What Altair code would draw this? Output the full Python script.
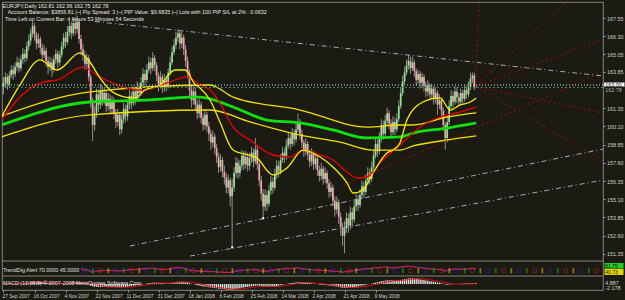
import json
import altair as alt
import pandas as pd

# ---------------- data ----------------
FIRST_OPEN = 162.8
CLOSE = [163.1, 163.5, 163.0, 163.6, 164.0, 163.7, 164.2, 164.5, 164.1, 164.7,
         165.1, 164.8, 165.6, 166.0, 166.5, 167.0, 166.4, 165.8, 166.1, 165.5,
         165.0, 165.3, 164.6, 164.2, 164.5, 164.0, 164.7, 165.1, 164.5, 165.0,
         165.6, 166.2, 165.9, 166.6, 167.0, 166.5, 167.2, 166.8, 167.3, 166.1,
         165.4, 165.0, 164.4, 164.8, 163.5, 161.8, 160.2, 161.0, 162.3, 161.6,
         162.6, 161.9, 162.4, 161.5, 162.0, 161.3, 161.9, 161.0, 160.4, 160.9,
         159.9, 160.6, 161.3, 160.8, 161.6, 162.2, 161.7, 162.5, 162.0, 162.8,
         162.4, 163.1, 163.7, 163.3, 164.0, 164.5, 164.1, 164.8, 164.3, 163.6,
         163.0, 163.5, 162.8, 163.3, 162.9, 163.8, 164.5, 165.2, 165.7, 166.2,
         166.5, 165.8, 166.2, 165.4, 164.6, 163.8, 162.6, 161.9, 162.5, 161.6,
         161.0, 161.6, 160.7, 160.2, 160.9, 160.1, 159.6, 159.0, 159.4, 158.6,
         158.0, 157.3, 157.8, 157.0, 156.6, 155.9, 156.4, 155.3, 155.9, 156.9,
         157.6, 156.9, 157.4, 158.1, 157.5, 158.0, 157.4, 157.9, 158.3, 157.7,
         158.5, 157.5, 156.4, 155.5, 154.6, 155.4, 154.8, 155.7, 156.3, 155.9,
         156.8, 157.4, 157.0, 157.8, 158.3, 158.0, 158.8, 159.3, 158.9, 159.6,
         159.2, 159.9, 160.4, 159.6, 159.0, 158.4, 158.9, 158.2, 157.7, 158.2,
         157.5, 157.9, 157.1, 156.7, 157.2, 156.5, 156.9, 156.2, 155.6, 155.9,
         155.0, 154.4, 154.9, 153.9, 153.2, 152.6, 153.1, 153.8, 153.3, 154.2,
         153.7, 154.6, 155.1, 154.7, 155.4, 156.0, 155.6, 156.4, 156.9, 156.5,
         157.3, 158.1, 158.9, 158.4, 159.3, 160.2, 159.6, 160.5, 161.0, 160.3,
         159.7, 160.4, 159.9, 160.6, 161.5, 162.4, 163.2, 163.8, 164.3, 164.6,
         164.1, 164.5, 163.9, 163.3, 163.7, 163.1, 163.5, 162.9, 162.5, 162.9,
         162.3, 162.7, 162.0, 162.4, 161.6, 161.9, 161.2, 160.2, 159.3, 160.4,
         161.5, 162.2, 161.8, 162.5, 162.1, 161.8, 162.4, 162.0, 162.6, 162.3,
         162.8, 163.4, 163.6, 162.81, 162.78]
HIGH = [163.5, 163.8, 163.7, 163.9, 164.3, 164.3, 164.5, 164.9, 164.8, 165.0,
        165.5, 165.4, 165.9, 166.4, 166.8, 167.4, 167.2, 166.6, 166.5, 166.3,
        165.8, 165.7, 165.5, 164.9, 164.9, 164.8, 165.0, 165.4, 165.3, 165.3,
        165.9, 166.5, 166.6, 167.0, 167.4, 167.3, 167.6, 167.5, 167.7, 167.5,
        166.4, 165.8, 165.3, 165.1, 165.0, 163.7, 162.1, 161.5, 162.7, 162.6,
        163.0, 162.9, 162.8, 162.6, 162.4, 162.3, 162.2, 162.1, 161.3, 161.3,
        161.1, 161.0, 161.7, 161.6, 161.9, 162.6, 162.5, 162.9, 162.8, 163.2,
        163.1, 163.5, 164.1, 164.0, 164.4, 164.9, 164.8, 165.2, 165.0, 164.5,
        163.8, 163.9, 163.7, 163.7, 163.6, 164.1, 164.9, 165.6, 166.1, 166.6,
        166.8, 166.7, 166.6, 166.4, 165.7, 164.9, 164.0, 162.9, 162.9, 162.8,
        161.9, 162.0, 161.8, 161.0, 161.3, 161.1, 160.4, 159.9, 159.8, 159.6,
        158.9, 158.3, 158.2, 158.0, 157.4, 156.9, 156.8, 156.6, 156.5, 157.3,
        158.0, 157.9, 157.8, 158.5, 158.4, 158.4, 158.3, 158.3, 158.7, 158.6,
        159.3, 158.8, 157.8, 156.7, 155.8, 155.8, 155.7, 156.1, 156.7, 156.6,
        157.2, 157.8, 157.7, 158.2, 158.7, 158.6, 159.2, 159.7, 159.6, 160.0,
        159.9, 160.3, 161.0, 160.6, 159.9, 159.2, 159.3, 159.1, 158.5, 158.6,
        158.4, 158.3, 158.1, 157.4, 157.6, 157.4, 157.3, 157.1, 156.5, 156.3,
        156.1, 155.3, 155.3, 155.1, 154.2, 153.5, 153.6, 154.2, 154.1, 154.6,
        154.5, 155.0, 155.5, 155.4, 155.8, 156.4, 156.3, 156.8, 157.3, 157.2,
        157.7, 158.5, 159.3, 159.2, 159.7, 160.6, 160.5, 160.9, 161.4, 161.2,
        160.6, 160.8, 160.7, 161.0, 161.9, 162.8, 163.6, 164.2, 164.7, 165.0,
        164.9, 164.9, 164.7, 164.1, 164.0, 163.9, 163.8, 163.7, 163.2, 163.3,
        163.1, 163.0, 162.9, 162.8, 162.6, 162.3, 162.1, 161.4, 160.4, 160.8,
        161.9, 162.6, 162.5, 162.9, 162.8, 162.4, 162.7, 162.6, 162.9, 162.9,
        163.2, 163.8, 163.8, 163.8, 162.96]
LOW = [162.3, 162.8, 162.6, 162.8, 163.4, 163.3, 163.5, 163.9, 163.8, 163.9,
       164.4, 164.5, 164.6, 165.3, 165.7, 166.2, 166.0, 165.4, 165.5, 165.1,
       164.6, 164.8, 164.2, 163.7, 163.9, 163.5, 163.8, 164.4, 164.1, 164.3,
       164.8, 165.4, 165.5, 165.7, 166.3, 166.1, 166.3, 166.4, 166.5, 165.8,
       165.0, 164.6, 164.0, 164.1, 163.2, 161.4, 159.1, 159.8, 160.7, 161.1,
       161.3, 161.5, 161.6, 161.1, 161.2, 160.9, 161.0, 160.6, 160.0, 160.1,
       159.5, 159.6, 160.3, 160.4, 160.5, 161.3, 161.3, 161.5, 161.6, 161.8,
       162.0, 162.2, 162.9, 162.9, 163.1, 163.8, 163.7, 163.9, 163.9, 163.2,
       162.5, 162.7, 162.4, 162.5, 162.5, 162.7, 163.6, 164.3, 165.0, 165.4,
       165.9, 165.4, 165.5, 165.0, 164.2, 163.4, 162.2, 161.4, 161.6, 161.2,
       160.6, 160.7, 160.3, 159.8, 159.9, 159.7, 159.1, 158.5, 158.7, 158.2,
       157.6, 156.9, 157.0, 156.6, 156.1, 155.5, 155.5, 154.6, 151.8, 155.6,
       156.6, 156.5, 156.6, 157.1, 157.1, 157.2, 157.0, 157.1, 157.6, 157.3,
       157.5, 157.1, 156.0, 155.0, 153.8, 154.3, 154.3, 154.6, 155.4, 155.5,
       155.7, 156.5, 156.6, 156.8, 157.6, 157.6, 157.8, 158.6, 158.5, 158.7,
       158.8, 159.0, 159.7, 159.2, 158.6, 158.0, 158.1, 157.8, 157.3, 157.4,
       157.1, 157.2, 156.7, 156.3, 156.4, 156.1, 156.2, 155.8, 155.2, 155.3,
       154.6, 153.9, 154.1, 153.4, 152.6, 151.9, 151.4, 152.8, 152.8, 153.0,
       153.2, 153.5, 154.3, 154.3, 154.5, 155.1, 155.2, 155.4, 156.1, 156.1,
       156.3, 157.0, 157.9, 158.0, 158.2, 159.0, 159.2, 159.4, 160.2, 159.9,
       159.3, 159.5, 159.5, 159.7, 160.4, 161.3, 162.2, 163.0, 163.6, 164.0,
       163.7, 163.9, 163.5, 162.9, 163.0, 162.7, 162.8, 162.5, 162.1, 162.2,
       161.9, 162.0, 161.6, 161.7, 160.9, 161.3, 160.8, 159.8, 158.5, 159.0,
       160.2, 161.3, 161.4, 161.6, 161.7, 161.5, 161.6, 161.7, 161.8, 162.0,
       162.1, 162.6, 163.1, 162.6, 162.75]

DATE_J = [0, 16, 32, 48, 64, 80, 96, 112, 128, 144, 160, 176, 192]
DATE_LABELS = ["27 Sep 2007", "16 Oct 2007", "4 Nov 2007", "22 Nov 2007",
               "11 Dec 2007", "31 Dec 2007", "18 Jan 2008", "6 Feb 2008",
               "25 Feb 2008", "14 Mar 2008", "2 Apr 2008", "21 Apr 2008",
               "9 May 2008"]
PRICE_TICKS = [167.55, 166.30, 165.05, 163.85, 161.35, 160.10, 158.85,
               157.60, 156.35, 155.10, 153.85, 152.60, 151.35]

# moving averages
FAST_J = [-1, 8.5, 18.8, 27.6, 39.5, 44.6, 49.8, 55, 62.7, 67.9, 73, 80.8, 88.5,
          93.7, 98.8, 101.4, 106.6, 111.7, 118.5, 130.8, 139.1, 146.3, 154.6,
          163.4, 170, 177.3, 180.4, 185.5, 190.7, 197.9, 201, 204.6, 208.2,
          216.5, 225.3, 230.5, 235.7, 240.9, 244]
FAST_P = [160.75, 162.95, 164.67, 163.98, 165.15, 164.53, 163.43, 162.60, 162.12,
          162.06, 162.60, 162.95, 163.98, 163.98, 163.0, 162.74, 161.92, 160.41,
          158.48, 157.93, 156.77, 157.25, 158.48, 158.0, 157.32, 156.22, 155.53,
          155.74, 156.90, 158.28, 158.48, 158.97, 160.54, 161.78, 162.06, 161.23,
          161.58, 161.78, 162.06]
RED_J = [-1, 8.5, 20.4, 27.6, 41, 49.8, 61.7, 72, 84.4, 94.7, 101.4, 106.6, 111.7,
         118.5, 127.2, 139.1, 147.9, 154.6, 163.4, 170, 177.3, 182.5, 187.6, 194.3,
         204.6, 215, 225.3, 235.7, 244]
RED_P = [160.54, 162.12, 163.15, 163.29, 164.18, 163.50, 162.81, 162.60, 163.09,
         163.50, 162.95, 162.60, 161.71, 160.06, 159.17, 158.14, 158.0, 158.48,
         158.14, 157.80, 156.97, 156.56, 156.63, 157.6, 158.83, 160.06, 160.75,
         161.09, 161.44]
GREEN_J = [-1, 44.6, 75.6, 96.3, 101.4, 118.5, 136, 153.1, 170, 187.6, 204.6,
           211.4, 228.9, 244]
GREEN_P = [160.20, 161.78, 161.92, 162.12, 162.12, 161.44, 160.54, 160.34, 159.86,
           159.31, 159.38, 159.65, 159.99, 160.34]
UPPER_J = [-1, 44.6, 106.6, 118.5, 153.1, 187.6, 204.6, 211.4, 228.9, 244]
UPPER_P = [160.8, 162.47, 162.95, 162.12, 161.23, 160.06, 160.20, 160.20, 160.75,
           161.03]
LOWER_J = [-1, 44.6, 106.6, 127.2, 153.1, 173.7, 190.7, 204.6, 211.4, 228.9, 244]
LOWER_P = [159.38, 160.89, 161.23, 160.41, 159.51, 159.03, 158.48, 158.48, 158.76,
           159.17, 159.45]

# trend lines (start / end points)
GRAY_LINES = [([47.2, 309.4], [167.31, 163.57]),
              ([65.3, 309.4], [151.89, 158.55]),
              ([96.3, 309.4], [151.20, 156.42])]
RED_LINES = [([243.6, 245.5], [162.85, 168.65]),
             ([243.6, 290.3], [162.85, 168.65]),
             ([243.6, 309.4], [162.85, 166.07]),
             ([176.0, 309.4], [156.08, 163.85]),
             ([243.6, 309.4], [162.85, 161.02]),
             ([243.6, 309.4], [162.85, 157.74])]
ANCHOR_J, ANCHOR_P = [118, 134], [151.8, 153.8]

BID = 162.78
HLINE = 162.95

HEADER = ["EURJPY,Daily  162.81 162.96 162.75 162.78",
          "Account Balance: $3856.81 |~| Pip Spread: 3 |~| PIP Value: $9.6835 |~| Lots with 100 PIP S/L at 2% : 0.0632",
          "Time Left on Current Bar: 4 Hours 53 Minutes 54 Seconds"]
HEADER_J = [-0.5, 2.2, 0.8]
HEADER_P = [168.39, 167.94, 167.48]

GLYPH_COLORS = ["#3c3cff", "#20c020", "#ff3030", "#e8d800"]

# ---------------- layout / style ----------------
W, H = 601, 288
XDOM = [-0.774, 309.4]
PMIN, PMAX = 150.86, 168.649
BG = "#1b1b13"
FONT = "Liberation Sans"
FS = 5.4

xs = alt.Scale(domain=XDOM, nice=False, zero=False)
xaxis = alt.Axis(values=DATE_J,
                 labelExpr=f"{json.dumps(DATE_LABELS)}[indexof({json.dumps(DATE_J)}, datum.value)]",
                 labelAlign="left", labelOffset=-1.5, labelFontSize=4.8, labelFont=FONT,
                 labelColor="#d0d0d0", tickColor="#a0a0a0", tickSize=2, domain=False,
                 grid=False, labelPadding=1.5, labelOverlap=False, labelFlush=False, title=None)
ys_main = alt.Scale(domain=[PMIN, PMAX], range=[259, 0], nice=False, zero=False)
yaxis_main = alt.Axis(values=PRICE_TICKS, format=".2f", orient="right", labelFontSize=FS,
                      labelFont=FONT, labelColor="#d0d0d0", tickColor="#a0a0a0",
                      tickSize=2, domain=False, grid=False, labelPadding=1.5, title=None,
                      labelOverlap=False, labelFlush=False)


def X(field="j"):
    return alt.X(f"{field}:Q", scale=xs, axis=xaxis)


def Y(field, axis=None):
    return alt.Y(f"{field}:Q", scale=ys_main, axis=axis)


n = len(CLOSE)
OPEN = [FIRST_OPEN] + CLOSE[:-1]
candles = pd.DataFrame({"j": list(range(n)), "o": OPEN, "h": HIGH, "l": LOW, "c": CLOSE})
candles["dir"] = ["up" if c >= o else "down" for o, c in zip(OPEN, CLOSE)]

wicks = alt.Chart(candles).mark_rule(color="#9c9c9c", strokeWidth=0.9).encode(
    x=X(), y=Y("l", yaxis_main), y2="h")
bodies = alt.Chart(candles).mark_rule(strokeWidth=1.7, strokeCap="butt").encode(
    x=X(), y=Y("o"), y2="c",
    color=alt.Color("dir:N", scale=alt.Scale(domain=["up", "down"],
                                             range=["#8fe68f", "#f5a3ae"]), legend=None))


def line_layer(js, ps, color, width, dash=None, interp="monotone"):
    df = pd.DataFrame({"j": js, "p": ps})
    kw = dict(color=color, strokeWidth=width, interpolate=interp, clip=True)
    if dash:
        kw["strokeDash"] = dash
    return alt.Chart(df).mark_line(**kw).encode(x=X(), y=Y("p"))


ma_layers = [
    line_layer(LOWER_J, LOWER_P, "#f0e000", 1.3),
    line_layer(UPPER_J, UPPER_P, "#f0e000", 1.3),
    line_layer(GREEN_J, GREEN_P, "#10e010", 2.8),
    line_layer(RED_J, RED_P, "#f00000", 1.3),
    line_layer(FAST_J, FAST_P, "#f8f000", 1.3),
]

trend_layers = [line_layer(js, ps, "#a8a8b8", 1, [5, 3, 1, 3], "linear")
                for js, ps in GRAY_LINES]
trend_layers += [line_layer(js, ps, "#a01010", 1, [2, 3], "linear")
                 for js, ps in RED_LINES]

anchors = alt.Chart(pd.DataFrame({"j": ANCHOR_J, "p": ANCHOR_P})).mark_square(
    size=4, color="white", opacity=1).encode(x=X(), y=Y("p"))

hlines = [
    alt.Chart(pd.DataFrame({"p": [HLINE]})).mark_rule(color="#d8d8d8", strokeDash=[1, 2],
                                                       strokeWidth=1).encode(y=Y("p")),
    alt.Chart(pd.DataFrame({"p": [BID]})).mark_rule(color="#3a8a78", strokeDash=[2, 2],
                                                     strokeWidth=1).encode(y=Y("p")),
]

header = alt.Chart(pd.DataFrame({"j": HEADER_J, "p": HEADER_P, "t": HEADER})).mark_text(
    align="left", baseline="middle", fontSize=FS, font=FONT, color="#e8e8e8").encode(
    x=X(), y=Y("p"), text="t:N")

# price box on the right axis
box = alt.Chart(pd.DataFrame({"j": [309.9], "j2": [320.5], "p": [163.12], "p2": [162.84]})).mark_rect(
    fill="white", stroke="#808080", strokeWidth=0.5).encode(x=X(), x2="j2", y=Y("p"), y2="p2")
box_txt = alt.Chart(pd.DataFrame({"j": [310.6], "p": [162.98], "t": ["163.00"]})).mark_text(
    align="left", baseline="middle", fontSize=FS, font=FONT, color="#101010").encode(
    x=X(), y=Y("p"), text="t:N")
bid_txt = alt.Chart(pd.DataFrame({"j": [310.6], "p": [162.62], "t": ["162.78"]})).mark_text(
    align="left", baseline="middle", fontSize=FS, font=FONT, color="#b0b0b0").encode(
    x=X(), y=Y("p"), text="t:N")

main_sep = alt.Chart(pd.DataFrame({"p": [PMIN]})).mark_rule(
    color="#a0a0a0", strokeWidth=0.8).encode(y=Y("p"))

# ---------------- panel 1 (RSI-type oscillator + alert glyph row) ----------------
cs = pd.Series(CLOSE)
delta = cs.diff()
gain = delta.clip(lower=0).ewm(alpha=1 / 14, adjust=False).mean()
loss = (-delta.clip(upper=0)).ewm(alpha=1 / 14, adjust=False).mean()
rsi = (100 - 100 / (1 + gain / loss.replace(0, 1e-9))).fillna(50)
rdf = pd.DataFrame({"j": list(range(n)), "r": rsi.round(2),
                    "b": rsi.rolling(5, min_periods=1).mean().round(2)})
ys_p1 = alt.Scale(domain=[0, 100], range=[274, 261], nice=False, zero=False)
Y1 = lambda f: alt.Y(f"{f}:Q", scale=ys_p1, axis=None)
p1_frame = alt.Chart(pd.DataFrame({"v": [0]})).mark_rule(
    color="#a0a0a0", strokeWidth=0.8).encode(y=Y1("v"))
p1_blue = alt.Chart(rdf[rdf.j >= 40]).mark_line(color="#3030e0", strokeWidth=1).encode(
    x=X(), y=Y1("b"))
p1_red = alt.Chart(rdf[rdf.j >= 40]).mark_line(color="#e02020", strokeWidth=1).encode(
    x=X(), y=Y1("r"))
gj = list(range(42, 309, 4))
gdf = pd.DataFrame({"j": gj, "v": [50] * len(gj),
                    "t": ["□" if k % 2 == 0 else "‖" for k in range(len(gj))],
                    "col": [GLYPH_COLORS[k % 4] for k in range(len(gj))]})
p1_glyphs = alt.Chart(gdf).mark_text(fontSize=5, font="DejaVu Sans", baseline="middle").encode(
    x=X(), y=Y1("v"), text="t:N", color=alt.Color("col:N", scale=None))
p1_label = alt.Chart(pd.DataFrame({"j": [-0.3], "v": [50], "t": ["TrendDig Alert 70.0000 45.0000"]})).mark_text(
    align="left", baseline="middle", fontSize=FS, font=FONT, color="#e0e0e0").encode(
    x=X(), y=Y1("v"), text="t:N")
p1_boxes = alt.Chart(pd.DataFrame({"j": [310.2, 310.2], "j2": [320.0, 320.0],
                                   "v": [100, 55], "v2": [58, 8],
                                   "col": ["#20d020", "#e8d800"]})).mark_rect().encode(
    x=X(), x2="j2", y=Y1("v"), y2="v2", color=alt.Color("col:N", scale=None))
p1_box_txt = alt.Chart(pd.DataFrame({"j": [310.6, 310.6], "v": [80, 32],
                                     "t": ["61.75", "40.73"]})).mark_text(
    align="left", baseline="middle", fontSize=5, font=FONT, color="#101010").encode(
    x=X(), y=Y1("v"), text="t:N")

# ---------------- panel 2 (MACD 12,26,9 from the closes) ----------------
macd = cs.ewm(span=12, adjust=False).mean() - cs.ewm(span=26, adjust=False).mean()
sig = macd.rolling(9, min_periods=1).mean()
mdf = pd.DataFrame({"j": list(range(n)), "m": macd.round(3), "s": sig.round(3), "z": 0.0})
ys_p2 = alt.Scale(domain=[float(macd.min()) - 0.1, float(macd.max()) + 0.1],
                  range=[288, 276], nice=False, zero=False)
Y2 = lambda f: alt.Y(f"{f}:Q", scale=ys_p2, axis=None)
p2_bars = alt.Chart(mdf).mark_rule(color="#e8e8e8", strokeWidth=1.3).encode(
    x=X(), y=Y2("z"), y2="m")
p2_sig = alt.Chart(mdf).mark_line(color="#e01010", strokeWidth=1).encode(
    x=X(), y=Y2("s"))
p2_label = alt.Chart(pd.DataFrame({"j": [-0.3], "v": [0.0], "t": ["MACD (12,26,9)  © 2007-2008 MetaQuotes Software Corp."]})).mark_text(
    align="left", baseline="middle", fontSize=FS, font=FONT, color="#e0e0e0", dy=-1).encode(
    x=X(), y=Y2("v"), text="t:N")
p2_vals = alt.Chart(pd.DataFrame({"j": [310.6, 310.6], "dy": [1.5, -3.5],
                                  "t": ["4.887", "-2.178"]})).mark_text(
    align="left", baseline="middle", fontSize=FS, font=FONT, color="#d0d0d0").encode(
    x=X(), y=alt.Y("dy:Q", scale=alt.Scale(domain=[-6, 6], range=[288, 276], nice=False, zero=False),
                   axis=None), text="t:N")

layers = ([wicks, bodies] + ma_layers + trend_layers +
          [anchors] + hlines + [header, box, box_txt, bid_txt, main_sep,
                                p1_frame, p1_blue, p1_red, p1_glyphs, p1_label, p1_boxes, p1_box_txt,
                                p2_bars, p2_sig, p2_label, p2_vals])

chart = alt.layer(*layers).resolve_scale(y="independent", color="independent").properties(
    width=W, height=H,
    autosize=alt.AutoSizeParams(type="none"),
    padding={"left": 2, "top": 2, "right": 22, "bottom": 10},
    background=BG,
).configure_view(stroke="#a0a0a0", strokeWidth=0.8)

chart.save("out.html", embed_options={"renderer": "svg", "actions": False})
